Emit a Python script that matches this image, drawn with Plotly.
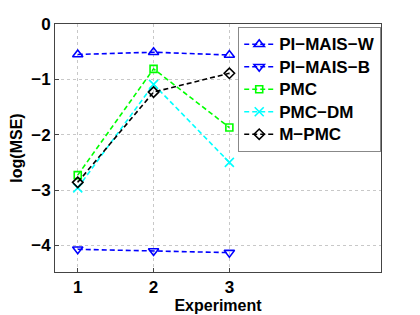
import plotly.graph_objects as go

experiments = [1, 2, 3]
pi_mais_w = [-0.55, -0.51, -0.56]
pi_mais_b = [-4.07, -4.10, -4.13]
pmc = [-2.73, -0.81, -1.87]
pmc_dm = [-2.96, -1.09, -2.50]
m_pmc = [-2.86, -1.23, -0.89]

series = [
    ("PI\u2212MAIS\u2212W", pi_mais_w, "#0000ff", "triangle-up-open", 9),
    ("PI\u2212MAIS\u2212B", pi_mais_b, "#0000ff", "triangle-down-open", 9),
    ("PMC", pmc, "#00ff00", "square-open", 7),
    ("PMC\u2212DM", pmc_dm, "#00ffff", "x-thin-open", 9),
    ("M\u2212PMC", m_pmc, "#000000", "diamond-open", 8),
]

fig = go.Figure()
for name, vals, color, sym, sz in series:
    fig.add_trace(go.Scatter(
        x=experiments, y=vals, name=name, mode="lines+markers",
        line=dict(color=color, width=1.6, dash="5px,3px"),
        marker=dict(symbol=sym, size=sz, color=color,
                    line=dict(color=color, width=1.6)),
        legendgroup=name,
    ))
    fig.data[-1].name = '<span style="font-size:17px">' + name + '</span>'

font_main = dict(family="Liberation Sans, Arial, sans-serif", size=16,
                 color="black", weight="bold")

fig.update_layout(
    width=420, height=315,
    margin=dict(l=55, r=39, t=24, b=43, autoexpand=False),
    paper_bgcolor="white", plot_bgcolor="white",
    font=font_main,
    showlegend=True,
    legend=dict(
        x=0.562, y=0.988, xanchor="left", yanchor="top",
        bgcolor="white", bordercolor="#888888", borderwidth=1,
        font=dict(family="Liberation Sans, Arial, sans-serif", size=15,
                  color="black", weight="bold"),
        tracegroupgap=0, itemwidth=30,
    ),
    xaxis=dict(
        range=[0.7, 5], tickvals=[1, 2, 3], ticktext=["1", "2", "3"],
        showgrid=True, gridcolor="#c8c8c8", griddash="dot", gridwidth=1,
        zeroline=False, showline=True, linecolor="#444444", linewidth=1,
        mirror=True, ticks="inside", ticklen=4, tickcolor="#444444",
        automargin=False,
        title=dict(text="Experiment", standoff=0,
                   font=dict(size=16, weight="bold")),
        tickfont=dict(size=17, weight="bold"),
    ),
    yaxis=dict(
        range=[-4.48, 0], tickvals=[0, -1, -2, -3, -4],
        ticktext=["0", "\u22121", "\u22122", "\u22123", "\u22124"],
        showgrid=True, gridcolor="#c8c8c8", griddash="dot", gridwidth=1,
        zeroline=False, showline=True, linecolor="#444444", linewidth=1,
        mirror=True, ticks="inside", ticklen=4, tickcolor="#444444",
        automargin=False,
        title=dict(text="log(MSE)", standoff=4,
                   font=dict(size=16, weight="bold")),
        tickfont=dict(size=17, weight="bold"),
    ),
)

fig.write_html("out.html", config={"displayModeBar": False},
               post_script="document.body.style.margin='0px';")
